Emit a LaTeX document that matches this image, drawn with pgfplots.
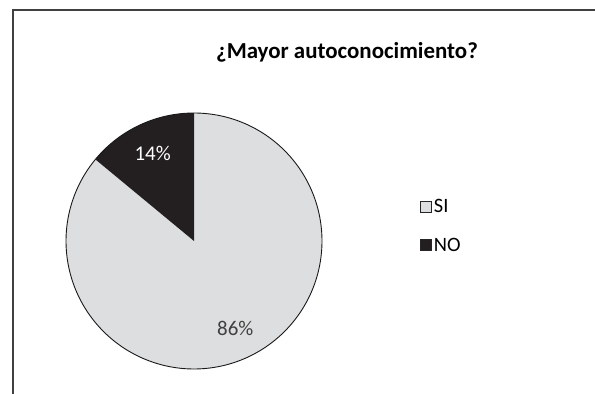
\documentclass[border=0pt]{standalone}
\usepackage{pgfplots}
\pgfplotsset{compat=1.18}
\usepackage{pgfplotstable}
\usepackage{fontspec}
\setmainfont{Carlito}
\definecolor{siGray}{RGB}{221,222,223}
\definecolor{noBlack}{RGB}{35,31,32}
\definecolor{lblGray}{RGB}{64,64,64}
\pgfplotstableread{
label value
SI 86
NO 14
}\piedata
\pgfplotstablegetelem{0}{value}\of\piedata \let\vSI\pgfplotsretval
\pgfplotstablegetelem{1}{value}\of\piedata \let\vNO\pgfplotsretval
\pgfmathsetmacro{\aNO}{90+\vNO*3.6}
\pgfmathsetmacro{\aEnd}{\aNO+\vSI*3.6}
\pgfmathsetmacro{\mNO}{(90+\aNO)/2}
\pgfmathsetmacro{\mSI}{(\aNO+\aEnd)/2}
\def\cx{194}\def\cy{153}\def\pieR{128}
\begin{document}
\begin{tikzpicture}
\begin{axis}[scale only axis, width=595bp, height=394bp,
  xmin=0, xmax=595, ymin=0, ymax=394, hide axis, clip=false,
  legend style={at={(axis cs:420,197)}, anchor=north west, draw=none, fill=none,
    font=\fontsize{20.5}{23}\selectfont, row sep=20bp, inner sep=0pt},
  legend cell align=left,
  legend image code/.code={\draw[#1,draw=black!85,line width=0.8pt] (0bp,-5.5bp) rectangle (11bp,5.5bp);},
]
\addplot[fill=siGray, draw=none, domain=\aNO:\aEnd, samples=150, variable=\t]
  ({\cx+\pieR*cos(\t)},{\cy+\pieR*sin(\t)}) -- (axis cs:\cx,\cy) -- cycle;
\addlegendentry{SI}
\addplot[fill=noBlack, draw=none, domain=90:\aNO, samples=40, variable=\t]
  ({\cx+\pieR*cos(\t)},{\cy+\pieR*sin(\t)}) -- (axis cs:\cx,\cy) -- cycle;
\addlegendentry{NO}
\addplot[draw=black!90, line width=0.9pt, domain=0:360, samples=200, variable=\t, forget plot]
  ({\cx+\pieR*cos(\t)},{\cy+\pieR*sin(\t)});
\node[text=white, font=\fontsize{21}{24}\selectfont] at (axis cs:{\cx+97*cos(\mNO)},{\cy+97*sin(\mNO)}) {14\%};
\node[text=lblGray, font=\fontsize{21}{24}\selectfont] at (axis cs:{\cx+97*cos(\mSI)},{\cy+97*sin(\mSI)}) {86\%};
\node[font=\bfseries\fontsize{23}{26}\selectfont] at (axis cs:347,342) {¿Mayor autoconocimiento?};
\draw[line width=2.4bp, color=black!75] (axis cs:13,0) -- (axis cs:13,384) -- (axis cs:595,384);
\end{axis}
\pgfresetboundingbox
\path (0,0) rectangle (595bp,394bp);
\end{tikzpicture}
\end{document}
